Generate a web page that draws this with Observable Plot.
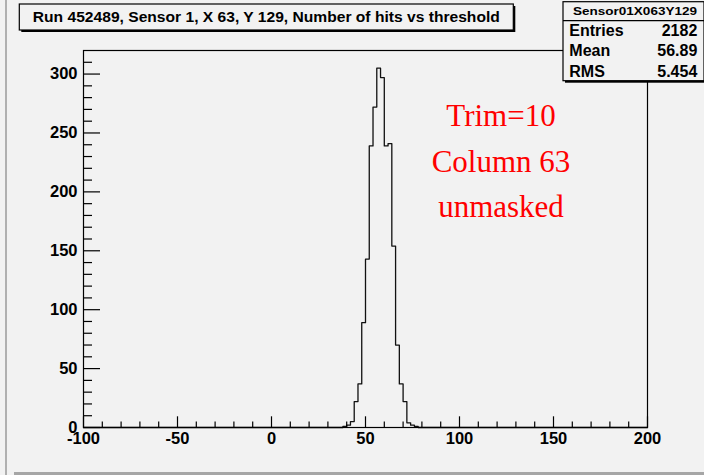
<!DOCTYPE html>
<html>
<head>
<meta charset="utf-8">
<script src="https://cdn.jsdelivr.net/npm/d3@7"></script>
<script src="https://cdn.jsdelivr.net/npm/@observablehq/plot@0.6"></script>
<style>
  html, body { margin: 0; padding: 0; background: #f2f2f2; }
  #chart { position: relative; width: 704px; height: 475px; overflow: hidden; }
</style>
</head>
<body>
<div id="chart"></div>
<script>
// ---- data ----
const titleText = "Run 452489, Sensor 1, X 63, Y 129, Number of hits vs threshold";
const statsName = "Sensor01X063Y129";
const statsLabels = ["Entries", "Mean", "RMS"];
const statsValues = ["2182", "56.89", "5.454"];
const noteLines = ["Trim=10", "Column 63", "unmasked"];

const xDomain = [-100, 200];
const yDomain = [0, 320];
const binWidth = 2;
const firstBinLow = 38;               // lower edge of first non-empty bin
const counts = [1, 2, 5, 22, 37, 89, 143, 239, 272, 305, 297, 239, 241, 154, 70, 37, 22, 4, 2, 1];

const xTicks = [-100, -50, 0, 50, 100, 150, 200];
const yTicks = [0, 50, 100, 150, 200, 250, 300];
const xMinor = d3.range(-100, 201, 10).filter(v => !xTicks.includes(v));
const yMinor = d3.range(0, 320, 10).filter(v => !yTicks.includes(v));

// ---- build histogram outline (all bins over the axis range) ----
const points = [];
for (let e = xDomain[0]; e < xDomain[1]; e += binWidth) {
  const i = Math.round((e - firstBinLow) / binWidth);
  points.push({x: e, y: (i >= 0 && i < counts.length) ? counts[i] : 0});
}
points.push({x: xDomain[1], y: 0});

// ---- layout ----
const W = 704, H = 475;
const mL = 83, mR = 57, mT = 50, mB = 48;
const fw = W - mL - mR, fh = H - mT - mB;
const font = "'Liberation Sans', Arial, Helvetica, sans-serif";

const chart = Plot.plot({
  width: W, height: H,
  marginLeft: mL, marginRight: mR, marginTop: mT, marginBottom: mB,
  x: {domain: xDomain},
  y: {domain: yDomain},
  style: {background: "#f2f2f2", color: "black", fontFamily: font, fontWeight: "bold", fontSize: "16.5px", overflow: "visible"},
  marks: [
    Plot.line(points, {x: "x", y: "y", curve: "step-after", stroke: "#111", strokeWidth: 1.3}),
    Plot.tickY(yTicks, {y: d => d, stroke: "black", strokeWidth: 1.2, insetRight: fw - 17}),
    Plot.tickY(yMinor, {y: d => d, stroke: "black", strokeWidth: 1.2, insetRight: fw - 9}),
    Plot.tickX(xTicks, {x: d => d, stroke: "black", strokeWidth: 1.2, insetTop: fh - 10.7}),
    Plot.tickX(xMinor, {x: d => d, stroke: "black", strokeWidth: 1.2, insetTop: fh - 5.5}),
    Plot.axisX(xTicks, {tickSize: 0, tickPadding: 5, tickFormat: d => String(d), fontSize: 16.5, fontWeight: "bold", fontFamily: font, label: null}),
    Plot.axisY(yTicks, {tickSize: 0, tickPadding: 6, tickFormat: d => String(d), fontSize: 16.5, fontWeight: "bold", fontFamily: font, label: null}),
    Plot.frame({stroke: "black", strokeWidth: 1.2})
  ]
});
document.getElementById("chart").appendChild(chart);

const svg = d3.select(chart);

// canvas bevel edges
svg.append("rect").attr("x", 5).attr("y", 0).attr("width", 2).attr("height", H).attr("fill", "#b0b0b0");
svg.append("rect").attr("x", 14).attr("y", 472).attr("width", W - 14).attr("height", 3).attr("fill", "#a6a6a6");

// red annotation
const note = svg.append("g").attr("fill", "#ff0000")
  .attr("font-family", "'Liberation Serif', 'Times New Roman', serif")
  .attr("font-size", 31).attr("font-weight", "normal").attr("text-anchor", "middle");
noteLines.forEach((t, i) => {
  note.append("text").attr("x", 501).attr("y", 126 + i * 45.7).text(t);
});

// title box
const tb = svg.append("g");
tb.append("rect").attr("x", 21.3).attr("y", 6).attr("width", 494).attr("height", 26).attr("fill", "black");
tb.append("rect").attr("x", 19.3).attr("y", 4).attr("width", 494).attr("height", 26)
  .attr("fill", "#f2f2f2").attr("stroke", "black").attr("stroke-width", 1.2);
tb.append("text").attr("x", 266.3).attr("y", 22.3).attr("text-anchor", "middle")
  .attr("font-family", font).attr("font-weight", "bold").attr("font-size", 15.5)
  .attr("textLength", 467).attr("lengthAdjust", "spacingAndGlyphs")
  .text(titleText);

// stats box
const sb = svg.append("g").attr("font-family", font).attr("font-weight", "bold");
sb.append("rect").attr("x", 565).attr("y", 3.7).attr("width", 141).attr("height", 79).attr("fill", "black");
sb.append("rect").attr("x", 563).attr("y", 1.7).attr("width", 141).attr("height", 79)
  .attr("fill", "#f2f2f2").attr("stroke", "black").attr("stroke-width", 1.2);
sb.append("line").attr("x1", 563).attr("x2", 704).attr("y1", 20.7).attr("y2", 20.7)
  .attr("stroke", "black").attr("stroke-width", 1.2);
sb.append("text").attr("x", 635).attr("y", 15).attr("text-anchor", "middle")
  .attr("font-size", 11).attr("textLength", 124).attr("lengthAdjust", "spacingAndGlyphs")
  .text(statsName);
statsLabels.forEach((lab, i) => {
  const y = 35.5 + i * 20.6;
  sb.append("text").attr("x", 569.3).attr("y", y).attr("font-size", 16).attr("text-anchor", "start").text(lab);
  sb.append("text").attr("x", 697.3).attr("y", y).attr("font-size", 16).attr("text-anchor", "end").text(statsValues[i]);
});
</script>
</body>
</html>
